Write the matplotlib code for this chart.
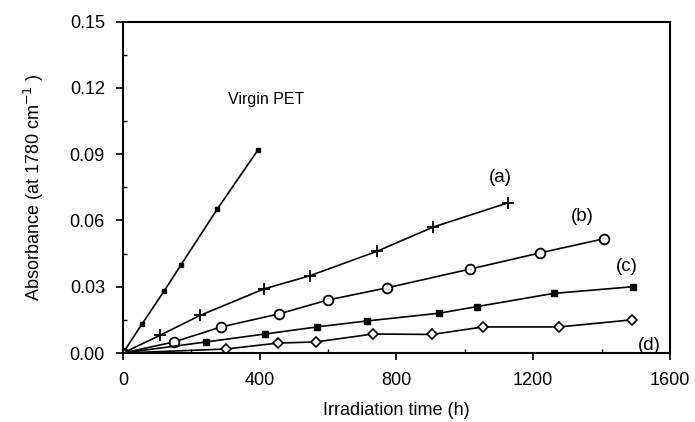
#!/usr/bin/env python3
# Absorbance at 1780 cm-1 vs irradiation time for virgin PET and samples (a)-(d)

import numpy as np
import matplotlib
matplotlib.use('Agg')
import matplotlib.pyplot as plt
import matplotlib.ticker

plt.rcParams['font.family'] = ['Liberation Sans', 'DejaVu Sans']

######################################################################
# Data
######################################################################

virgin_t = [0, 55, 120, 170, 275, 395]
virgin_a = [0, 0.013, 0.028, 0.040, 0.065, 0.092]

a_t = [0, 108, 225, 412, 547, 742, 907, 1126]
a_a = [0, 0.008, 0.017, 0.029, 0.035, 0.046, 0.057, 0.068]

b_t = [0, 149, 287, 456, 599, 772, 1015, 1219, 1406]
b_a = [0, 0.005, 0.0118, 0.0177, 0.024, 0.0295, 0.038, 0.0453, 0.0517]

c_t = [0, 243, 415, 567, 713, 924, 1035, 1260, 1491]
c_a = [0, 0.005, 0.0086, 0.0118, 0.0145, 0.018, 0.021, 0.027, 0.030]

d_t = [0, 301, 453, 564, 731, 904, 1053, 1275, 1488]
d_a = [0, 0.0018, 0.0045, 0.005, 0.0086, 0.0084, 0.0118, 0.0118, 0.015]

labels = ['Virgin PET', '(a)', '(b)', '(c)', '(d)']
label_x = [418, 1105, 1345, 1474, 1541]
label_y = [0.1146, 0.0793, 0.062, 0.039, 0.0032]


######################################################################
# Graphing
######################################################################

fig = plt.figure(figsize=(6.95, 4.22), dpi=100)
ax = fig.add_axes([0.177, 0.1635, 0.787, 0.785])

kw = dict(color='black', lw=1.2)
ax.plot(virgin_t, virgin_a, marker='s', ms=3.5, mfc='black', **kw)
ax.plot(a_t, a_a, marker='+', ms=9, mew=1.3, **kw)
ax.plot(b_t, b_a, marker='o', ms=7, mfc='white', mew=1.3, **kw)
ax.plot(c_t, c_a, marker='s', ms=4, mfc='black', **kw)
ax.plot(d_t, d_a, marker='D', ms=5, mfc='white', mew=1.2, **kw)

for i, (txt, x, y) in enumerate(zip(labels, label_x, label_y)):
    ax.text(x, y, txt, ha='center', va='center', fontsize=11.5 if i == 0 else 13.5)

ax.set_xlim(0, 1600)
ax.set_ylim(0, 0.15)
ax.set_xticks(np.arange(0, 1601, 400))
ax.set_yticks(np.arange(0, 0.151, 0.03))
ax.yaxis.set_major_formatter(matplotlib.ticker.FormatStrFormatter('%.2f'))
ax.xaxis.set_minor_locator(matplotlib.ticker.MultipleLocator(200))
ax.yaxis.set_minor_locator(matplotlib.ticker.MultipleLocator(0.015))
ax.tick_params(which='major', direction='out', length=5, width=1.2, labelsize=13)
ax.tick_params(axis='y', which='major', pad=8)
ax.tick_params(axis='x', which='major', pad=9)
ax.tick_params(which='minor', direction='in', length=3, width=1)
for s in ax.spines.values():
    s.set_linewidth(1.5)

ax.set_xlabel('Irradiation time (h)', fontsize=13, labelpad=9)
ax.set_ylabel('Absorbance (at 1780 cm$^{-1}$ )', fontsize=13, labelpad=17)

fig.savefig('out.png', dpi=100)
